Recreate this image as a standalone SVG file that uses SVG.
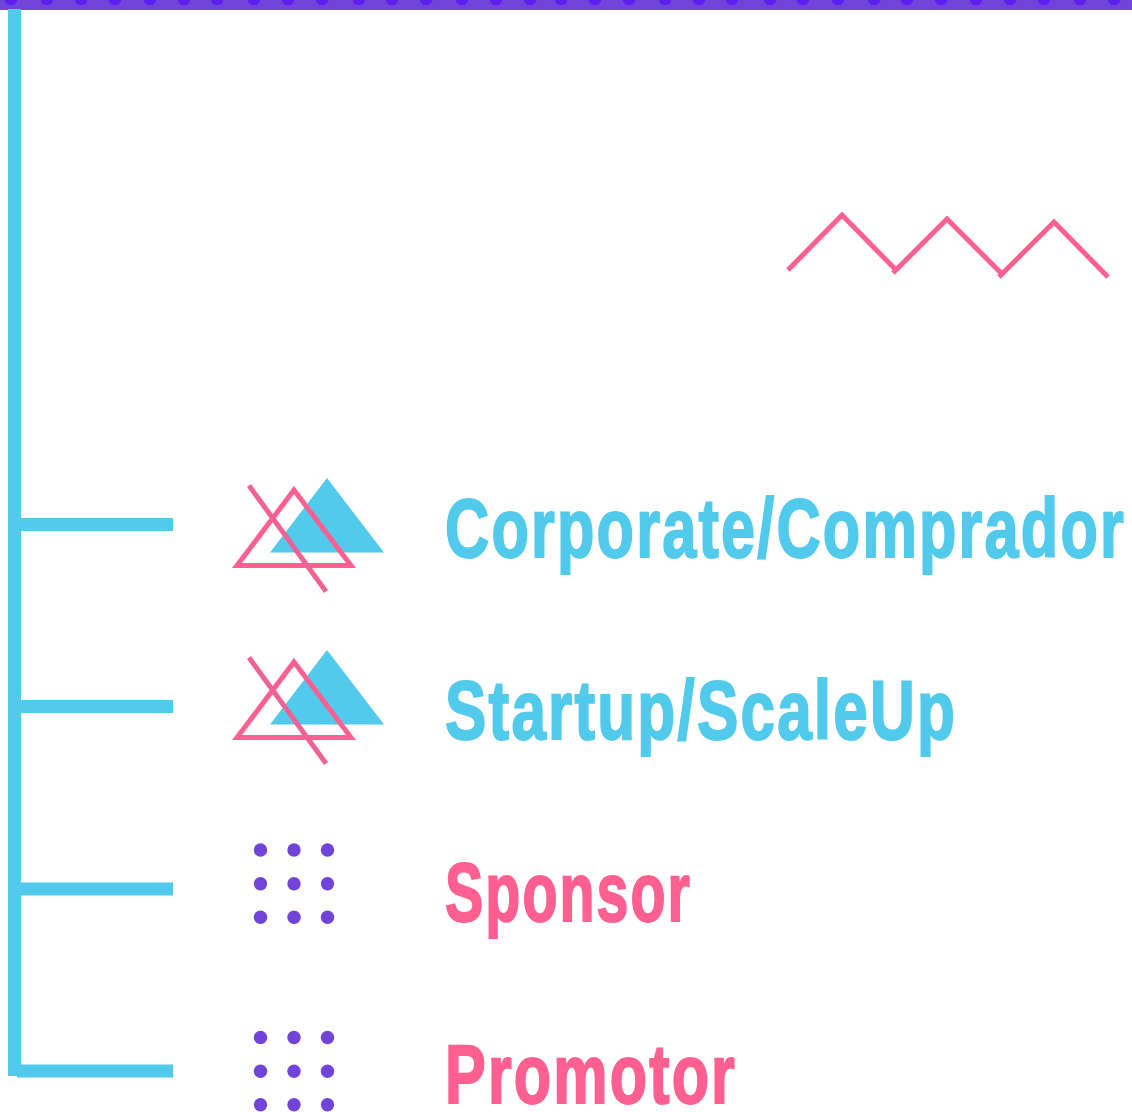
<svg xmlns="http://www.w3.org/2000/svg" width="1132" height="1112" viewBox="0 0 1132 1112">
<style>
.bar{fill:#52caec}
.dot{fill:#7044d8}
.tri{fill:#52caec}
.out{fill:none;stroke:#ff5f91;stroke-width:5}
.slash{stroke:#ee6394;stroke-width:5}
.zig{fill:none;stroke:#ff5f91;stroke-width:5}
.t{font-family:"Liberation Sans Narrow","Liberation Sans",sans-serif;font-weight:700;font-size:84px;letter-spacing:3px;stroke-width:2px}
.b{fill:#52caec;stroke:#52caec}.p{fill:#ff5f91;stroke:#ff5f91}
</style>
<defs>
<g id="mark"><polygon class="tri" points="327,478 384,552.500 270,552.500"/><polygon class="out" points="294,490 351,565.500 237,565.500"/><line class="slash" x1="249" y1="485.500" x2="326" y2="591.500"/></g>
<g id="dots"><circle class="dot" cx="260.500" cy="850" r="6.700"/><circle class="dot" cx="294" cy="850" r="6.700"/><circle class="dot" cx="327.500" cy="850" r="6.700"/><circle class="dot" cx="260.500" cy="883.700" r="6.700"/><circle class="dot" cx="294" cy="883.700" r="6.700"/><circle class="dot" cx="327.500" cy="883.700" r="6.700"/><circle class="dot" cx="260.500" cy="917.300" r="6.700"/><circle class="dot" cx="294" cy="917.300" r="6.700"/><circle class="dot" cx="327.500" cy="917.300" r="6.700"/></g>
</defs>
<rect id="topbar" width="1132" height="10" fill="#7044d8"/>
<g id="topdots" fill="#5d1ff0"><circle cx="11" cy="-1" r="6.300"/><circle cx="47" cy="-1" r="6.300"/><circle cx="81" cy="-1" r="6.300"/><circle cx="115" cy="-1" r="6.300"/><circle cx="150" cy="-1" r="6.300"/><circle cx="184" cy="-1" r="6.300"/><circle cx="217" cy="-1" r="6.300"/><circle cx="254" cy="-1" r="6.300"/><circle cx="288" cy="-1" r="6.300"/><circle cx="322" cy="-1" r="6.300"/><circle cx="359" cy="-1" r="6.300"/><circle cx="392" cy="-1" r="6.300"/><circle cx="426" cy="-1" r="6.300"/><circle cx="462" cy="-1" r="6.300"/><circle cx="496" cy="-1" r="6.300"/><circle cx="530" cy="-1" r="6.300"/><circle cx="561" cy="-1" r="6.300"/><circle cx="595" cy="-1" r="6.300"/><circle cx="629" cy="-1" r="6.300"/><circle cx="665" cy="-1" r="6.300"/><circle cx="699" cy="-1" r="6.300"/><circle cx="732" cy="-1" r="6.300"/><circle cx="770" cy="-1" r="6.300"/><circle cx="803" cy="-1" r="6.300"/><circle cx="838" cy="-1" r="6.300"/><circle cx="874" cy="-1" r="6.300"/><circle cx="907" cy="-1" r="6.300"/><circle cx="941" cy="-1" r="6.300"/><circle cx="976" cy="-1" r="6.300"/><circle cx="1010" cy="-1" r="6.300"/><circle cx="1044" cy="-1" r="6.300"/><circle cx="1080" cy="-1" r="6.300"/><circle cx="1114" cy="-1" r="6.300"/></g>
<g id="connectors">
<rect class="bar" x="8" y="9" width="13" height="1067"/>
<rect class="bar" x="17" y="518" width="156" height="13"/>
<rect class="bar" x="17" y="700" width="156" height="13"/>
<rect class="bar" x="17" y="882.500" width="156" height="13"/>
<rect class="bar" x="17" y="1064.500" width="156" height="13"/>
</g>
<g id="zigzag"><polyline class="zig" points="788,270 842,215 897,271"/><polyline class="zig" points="893,273 947,219 1003,275"/><polyline class="zig" points="999,277 1054,222 1108,277"/></g>
<g id="node-corporate"><use href="#mark"/><text class="t b" x="445" y="557" textLength="681" lengthAdjust="spacingAndGlyphs">Corporate/Comprador</text></g>
<g id="node-startup"><use href="#mark" y="172"/><text class="t b" x="445" y="739" textLength="512" lengthAdjust="spacingAndGlyphs">Startup/ScaleUp</text></g>
<g id="node-sponsor"><use href="#dots"/><text class="t p" x="445" y="921" textLength="247" lengthAdjust="spacingAndGlyphs">Sponsor</text></g>
<g id="node-promotor"><use href="#dots" y="187.500"/><text class="t p" x="445" y="1103" textLength="292" lengthAdjust="spacingAndGlyphs">Promotor</text></g>
</svg>
